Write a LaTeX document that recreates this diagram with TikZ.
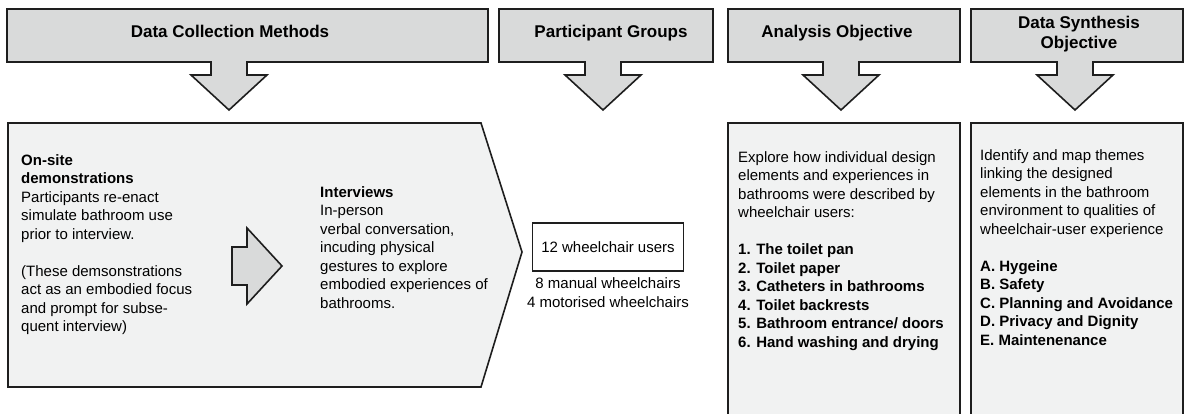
\documentclass[tikz,border=0pt]{standalone}
\usepackage{fontspec}
\setmainfont{Liberation Sans}
\usepackage{xcolor}
\usepackage{tikz}
\usetikzlibrary{arrows}
\usetikzlibrary{positioning}
\definecolor{hgray}{RGB}{217,218,218}
\definecolor{pgray}{RGB}{241,242,242}
\definecolor{edge}{RGB}{30,30,30}
\tikzstyle{sh} = [draw=edge, line width=1.6pt, line join=miter]
\tikzstyle{hd} = [font=\fontsize{17}{20}\selectfont\bfseries, align=center, inner sep=0pt]
\tikzstyle{tx} = [font=\fontsize{15}{18.5}\selectfont, align=left, anchor=north west, inner sep=0pt]

\begin{document}
\begin{tikzpicture}
				[x=1pt, y=-1pt,
				every node/.style={text=black}
				]
				\useasboundingbox (0,0) rectangle (1186,414);
				% header bars, each with its down arrow
				\foreach \xa/\xb/\c in {7/488/229,499/713/603,728/960/841,971/1183/1075}
				\draw[sh, fill=hgray] (\xa,9) -- (\xb,9) -- (\xb,62) -- (\c+18,62) -- (\c+18,75) -- (\c+38,75) -- (\c,110) -- (\c-38,75) -- (\c-18,75) -- (\c-18,62) -- (\xa,62) -- cycle;
				\node[hd, anchor=base] (hdcollect) at (230,38) {Data Collection Methods};
				\node[hd, anchor=base] (hdgroups) at (611,38) {Participant Groups};
				\node[hd, anchor=base] (hdanalysis) at (837,38) {Analysis Objective};
				\node[hd] (hdsynth) at (1079,34) {Data Synthesis\\Objective};
				% panels
				\draw[sh, fill=pgray] (8,123) -- (481,123) -- (522,252) -- (481,387) -- (8,387) -- cycle;
				\draw[sh, fill=pgray] (728,123) rectangle (960,420);
				\draw[sh, fill=pgray] (971,123) rectangle (1183,420);
				\draw[sh, fill=hgray] (232,247) -- (247,247) -- (247,228) -- (282,266) -- (247,304) -- (247,285) -- (232,285) -- cycle;
				% panel texts
				\node[tx] (txsite) at (21,154.4) {\textbf{On-site}\\\textbf{demonstrations}\\Participants re-enact\\simulate bathroom use\\prior to interview.\\[18.5pt](These demsonstrations\\act as an embodied focus\\and prompt for subse-\\quent interview)};
				\node[tx] (txinterv) at (320,186.4) {\textbf{Interviews}\\In-person\\verbal conversation,\\incuding physical\\gestures to explore\\embodied experiences of\\bathrooms.};
				\node[draw=edge, line width=1.6pt, minimum width=151pt, minimum height=48pt, inner sep=0pt, font=\fontsize{15}{18.5}\selectfont] (users) at (608,247) {12 wheelchair users};
				\node[below=6pt of users, align=center, inner sep=0pt, font=\fontsize{15}{18.5}\selectfont] (usertypes) {8 manual wheelchairs\\4 motorised wheelchairs};
				\node[tx] (txanalysis) at (738,151.4) {Explore how individual design\\elements and experiences in\\bathrooms were described by\\wheelchair users:\\[18.5pt]\textbf{1. The toilet pan}\\\textbf{2. Toilet paper}\\\textbf{3. Catheters in bathrooms}\\\textbf{4. Toilet backrests}\\\textbf{5. Bathroom entrance/ doors}\\\textbf{6. Hand washing and drying}};
				\node[tx] (txsynth) at (980,149.4) {Identify and map themes\\linking the designed\\elements in the bathroom\\environment to qualities of\\wheelchair-user experience\\[18.5pt]\textbf{A. Hygeine}\\\textbf{B. Safety}\\\textbf{C. Planning and Avoidance}\\\textbf{D. Privacy and Dignity}\\\textbf{E. Maintenenance}};
			\end{tikzpicture}
\end{document}
